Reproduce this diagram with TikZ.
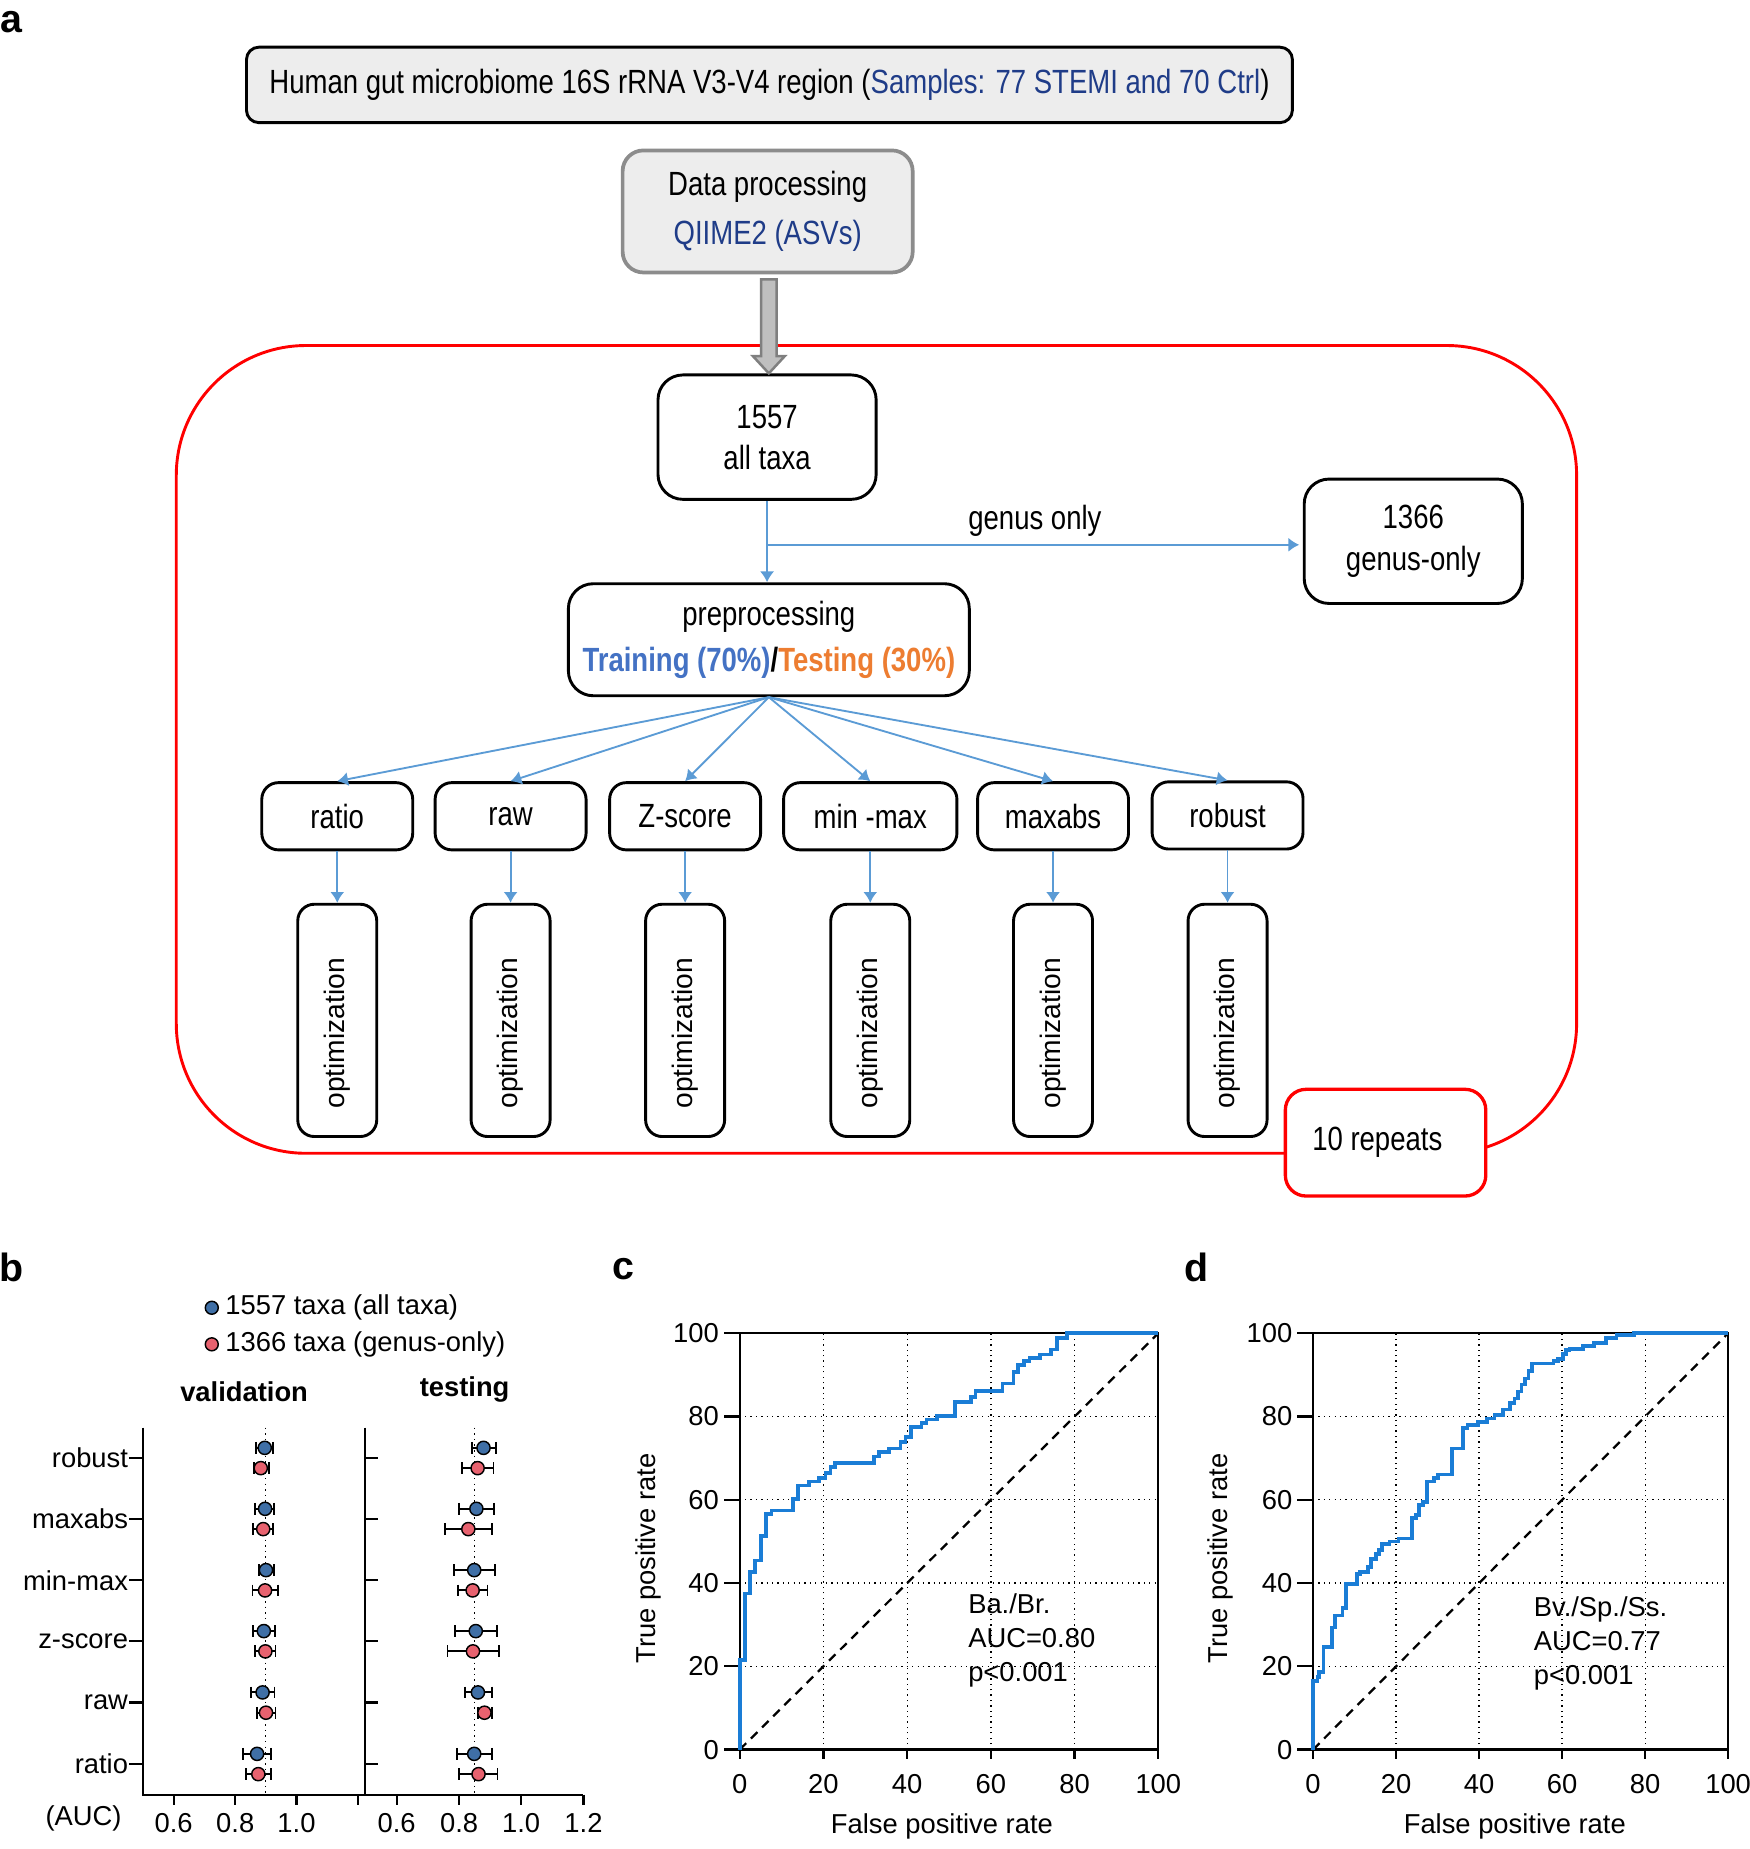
\documentclass[tikz,border=0pt]{standalone}
\usepackage{fontspec}
\setmainfont{Liberation Sans}
\newfontfamily\narrowfont[FakeStretch=0.82]{Liberation Sans}
\usepackage{tikz}
\usepackage{xcolor}
\usetikzlibrary{arrows.meta,calc}

\definecolor{boxgrey}{HTML}{EDEDED}
\definecolor{procgrey}{HTML}{8C8C8C}
\definecolor{navytext}{HTML}{1F3C88}
\definecolor{trainblue}{HTML}{4472C4}
\definecolor{testorange}{HTML}{ED7D31}
\definecolor{linkblue}{HTML}{5B9BD5}
\definecolor{arrowgrey}{HTML}{BFBFBF}
\definecolor{arrowedge}{HTML}{7F7F7F}
\definecolor{dotblue}{HTML}{3F6FA6}
\definecolor{dotred}{HTML}{E8626F}
\definecolor{rocblue}{HTML}{1A7DD6}

\newcommand\flowfont{\narrowfont\fontsize{8.1}{9.9}\selectfont}
\newcommand\rotfont{\fontsize{6.8}{8}\selectfont}
\newcommand\plotfont{\fontsize{6.6}{8.2}\selectfont}
\newcommand\tagfont{\fontsize{9.5}{11}\selectfont\bfseries}

\tikzset{
    tag/.style = {font=\tagfont, inner sep=0pt},
    source-box/.style = {draw=black, fill=boxgrey, line width=0.7pt, rectangle, rounded corners=3pt, font=\flowfont},
    proc-box/.style = {draw=procgrey, fill=boxgrey, line width=0.9pt, rectangle, rounded corners=5pt, align=center, font=\flowfont},
    taxa-box/.style = {draw=black, fill=white, line width=0.7pt, rectangle, rounded corners=6pt, align=center, font=\flowfont, minimum width=18.5mm, minimum height=10.55mm},
    norm-box/.style = {draw=black, fill=white, line width=0.7pt, rectangle, rounded corners=4pt, minimum height=5.7mm, font=\flowfont},
    opt-box/.style = {draw=black, fill=white, line width=0.7pt, rectangle, rounded corners=4pt, rotate=90, minimum width=19.7mm, minimum height=6.7mm, inner sep=0pt, font=\rotfont},
    repeat-box/.style = {draw=red, fill=white, line width=0.8pt, rectangle, rounded corners=5pt, font=\flowfont},
    red-frame/.style = {draw=red, line width=0.7pt, rounded corners=11mm},
    grey-arrow/.style = {draw=arrowedge, fill=arrowgrey, line width=0.6pt},
    link/.style = {draw=linkblue, line width=0.45pt, -{Latex[length=2.6pt,width=3.4pt]}},
    plot-text/.style = {font=\plotfont},
    axis/.style = {draw=black, line width=0.55pt},
    ref-line/.style = {draw=black, line width=0.35pt, densely dotted},
    grid-line/.style = {draw=black, line width=0.3pt, densely dotted},
    diag/.style = {draw=black, line width=0.55pt, dash pattern=on 2.2pt off 1.6pt},
    roc/.style = {draw=rocblue, line width=0.9pt, miter limit=4},
    err/.style = {draw=black, line width=0.45pt},
    blue-pt/.style = {draw=black, fill=dotblue, line width=0.35pt},
    red-pt/.style = {draw=black, fill=dotred, line width=0.35pt},
    key-dot/.style = {circle, draw=black, line width=0.35pt, minimum size=1.1mm, inner sep=0pt},
}

\begin{document}
\begin{tikzpicture}[x=0.1mm, y=-0.1mm]
\useasboundingbox (0,0) rectangle (1484,1568);

% panel a
\node[tag] (tag-a) at (10,19) {a};
\draw[red-frame] (149.5,293) rectangle (1337,978);

\node[source-box, minimum width=88.7mm, minimum height=6.4mm] (source) at (652.5,72) {Human gut microbiome 16S rRNA V3-V4 region (\textcolor{navytext}{Samples: 77 STEMI and 70 Ctrl})};
\node[proc-box, minimum width=24.6mm, minimum height=10.35mm] (proc) at (651,179.3) {Data processing\\[1.9pt]\textcolor{navytext}{QIIME2 (ASVs)}};

\node[taxa-box] (n1557) at (650.5,370.7) {1557\\all taxa};
\node[taxa-box] (n1366) at (1198.5,459) {1366\\genus-only};
\node[taxa-box, minimum width=34mm, minimum height=9.5mm] (prep) at (652,542.5) {preprocessing\\[1.2pt]{\bfseries\textcolor{trainblue}{Training (70\%)}/\textcolor{testorange}{Testing (30\%)}}};

\node[norm-box, minimum width=12.8mm] (ratio) at (286,692.2) {ratio};
\node[norm-box, minimum width=12.8mm] (raw) at (433,692.2) {raw};
\node[norm-box, minimum width=12.8mm] (zscore) at (581,692.2) {Z-score};
\node[norm-box, minimum width=14.7mm] (minmax) at (738,692.2) {min -max};
\node[norm-box, minimum width=12.8mm] (maxabs) at (893,692.2) {maxabs};
\node[norm-box, minimum width=12.8mm] (robust) at (1041,691.5) {robust};

\foreach \b in {ratio,raw,zscore,minmax,maxabs,robust}
    \node[opt-box] (opt-\b) at (\b |- 0,865.3) {optimization\kern2.2mm};

\node[repeat-box, minimum width=17mm, minimum height=9.05mm] (repeats) at (1175,969) {10 repeats\kern1.4mm};

\draw[grey-arrow] (645.5,237) -- (645.5,302) -- (638.5,302) -- (652,316.6) -- (665.5,302) -- (658.5,302) -- (658.5,237) -- cycle;

\draw[link] (n1557.south) -- (n1557.south |- prep.north);
\coordinate (split) at ($(n1557.south)!0.54!(n1557.south |- prep.north)$);
\draw[link, shorten >=0.3mm] (split) -- (split -| n1366.west) node[midway, anchor=base, yshift=1.3mm, font=\flowfont] (genus-label) {genus only};
\foreach \b in {ratio,raw,zscore,minmax,maxabs,robust} {
    \draw[link] (prep.south) -- (\b.north);
    \draw[link] (\b.south) -- (opt-\b.east);
}

% panel b
\node[tag] (tag-b) at (10,1074.7) {b};
\node[key-dot, fill=dotblue] (key-all) at (179.6,1109) {};
\node[plot-text, anchor=west, inner sep=0.5pt] (key-all-text) at ([xshift=0.3mm]key-all.east) {1557 taxa (all taxa)};
\node[key-dot, fill=dotred] (key-genus) at (179.6,1140) {};
\node[plot-text, anchor=west, inner sep=0.5pt] (key-genus-text) at ([xshift=0.3mm]key-genus.east) {1366 taxa (genus-only)};
\node[font=\plotfont\bfseries] (val-title) at (207,1180) {validation};
\node[font=\plotfont\bfseries] (test-title) at (394,1178.4) {testing};

\draw[axis] (121.3,1210.7) -- (121.3,1521.9) -- (494.8,1521.9);
\draw[axis] (309.4,1210.7) -- (309.4,1521.9);
\draw[ref-line] (225.2,1210.7) -- (225.2,1521.9);
\draw[ref-line] (402.3,1210.7) -- (402.3,1521.9);
\foreach \x/\t in {147.3/0.6,199.5/0.8,251.4/1.0,336.4/0.6,389.3/0.8,441.9/1.0,494.8/1.2} {
    \draw[axis] (\x,1521.9) -- (\x,1530.8);
    \node[plot-text] (tick-\x) at (\x,1545.6) {\t};
}
\draw[axis] (303.3,1521.9) -- (303.3,1530.8);
\foreach \y/\t in {1236.4/robust,1288.1/maxabs,1340.1/min-max,1391.8/z-score,1443.8/raw,1495.9/ratio} {
    \draw[axis] (109.5,\y) -- (121.3,\y);
    \draw[axis] (309.4,\y) -- (320.9,\y);
    \node[plot-text, anchor=east, inner sep=0.5pt] (cat-\t) at (111,\y) {\t};
}
\node[plot-text] (auc-label) at (70.8,1542) {(AUC)};

\begin{scope}[xshift=-0.87mm, x=26mm]
\foreach \y/\bv/\bl/\bh/\rv/\rl/\rh in {
    1236.4/0.897/0.868/0.923/0.884/0.863/0.910,
    1288.1/0.898/0.866/0.928/0.892/0.858/0.925,
    1340.1/0.901/0.879/0.926/0.898/0.857/0.941,
    1391.8/0.894/0.858/0.930/0.899/0.866/0.932,
    1443.8/0.890/0.852/0.929/0.901/0.871/0.932,
    1495.9/0.872/0.826/0.917/0.876/0.835/0.917} {
    \draw[err] (\bl,\y-8.6) -- (\bh,\y-8.6) (\bl,\y-13.6) -- (\bl,\y-3.6) (\bh,\y-13.6) -- (\bh,\y-3.6);
    \draw[err] (\rl,\y+8.6) -- (\rh,\y+8.6) (\rl,\y+3.6) -- (\rl,\y+13.6) (\rh,\y+3.6) -- (\rh,\y+13.6);
    \draw[blue-pt] (\bv,\y-8.6) circle[radius=0.56mm];
    \draw[red-pt] (\rv,\y+8.6) circle[radius=0.56mm];
}
\end{scope}

\begin{scope}[xshift=17.86mm, x=26.3mm]
\foreach \y/\bv/\bl/\bh/\rv/\rl/\rh in {
    1236.4/0.880/0.842/0.921/0.861/0.810/0.912,
    1288.1/0.857/0.800/0.915/0.831/0.755/0.906,
    1340.1/0.850/0.785/0.916/0.845/0.799/0.893,
    1391.8/0.855/0.789/0.924/0.846/0.764/0.931,
    1443.8/0.862/0.819/0.908/0.883/0.861/0.906,
    1495.9/0.850/0.795/0.908/0.864/0.801/0.925} {
    \draw[err] (\bl,\y-8.6) -- (\bh,\y-8.6) (\bl,\y-13.6) -- (\bl,\y-3.6) (\bh,\y-13.6) -- (\bh,\y-3.6);
    \draw[err] (\rl,\y+8.6) -- (\rh,\y+8.6) (\rl,\y+3.6) -- (\rl,\y+13.6) (\rh,\y+3.6) -- (\rh,\y+13.6);
    \draw[blue-pt] (\bv,\y-8.6) circle[radius=0.56mm];
    \draw[red-pt] (\rv,\y+8.6) circle[radius=0.56mm];
}
\end{scope}

% panel c
\node[tag] (tag-c) at (528.6,1076.3) {c};
\begin{scope}[shift={(627.3,1483.7)}, x=0.355mm, y=0.3531mm]
\foreach \v in {20,40,60,80} {
    \draw[grid-line] (\v,0) -- (\v,100);
    \draw[grid-line] (0,\v) -- (100,\v);
}
\draw[diag] (0,0) -- (100,100);
\draw[axis] (0,0) rectangle (100,100);
\foreach \v in {0,20,...,100} {
    \draw[axis] (\v,0) -- (\v,-2.2);
    \draw[axis] (0,\v) -- (-3.8,\v);
    \node[plot-text] (c-xt-\v) at (\v,-8.2) {\v};
    \node[plot-text, anchor=east, inner sep=0.5pt] (c-yt-\v) at (-4.3,\v) {\v};
}
\node[plot-text, rotate=90] (c-ylabel) at (-21.8,45.9) {True positive rate};
\node[plot-text] (c-xlabel) at (48.3,-18.5) {False positive rate};
\node[plot-text, align=left, anchor=west, inner sep=0pt] (c-note) at (54.4,26.3) {Ba./Br.\\AUC=0.80\\p<0.001};
\draw[roc] (0,0) |- (1.2,21.6) |- (2.5,37.5) |- (3.7,42.6) |- (5.1,45.4) |- (6.3,51.3) |- (7.6,56.6)
    |- (12.7,57.4) |- (13.9,60.2) |- (16.5,63.4) |- (19.0,64.4) |- (20.5,65.3) |- (21.7,66.4)
    |- (22.8,67.8) |- (32.1,68.8) |- (33.2,70.4) |- (35.7,71.4) |- (38.4,72.3) |- (39.6,73.9)
    |- (40.9,75.0) |- (43.4,77.4) |- (44.6,78.4) |- (47.2,79.3) |- (51.4,80.1) |- (55.2,83.4)
    |- (56.3,84.6) |- (62.8,86.2) |- (65.4,87.9) |- (66.5,90.7) |- (67.9,92.4) |- (69.2,93.3)
    |- (71.8,94.1) |- (74.4,94.9) |- (75.8,96.1) |- (78.2,98.9) |- (100,100);
\end{scope}

% panel d
\node[tag] (tag-d) at (1014.3,1074.7) {d};
\begin{scope}[shift={(1113.5,1483.7)}, x=0.352mm, y=0.3531mm]
\foreach \v in {20,40,60,80} {
    \draw[grid-line] (\v,0) -- (\v,100);
    \draw[grid-line] (0,\v) -- (100,\v);
}
\draw[diag] (0,0) -- (100,100);
\draw[axis] (0,0) rectangle (100,100);
\foreach \v in {0,20,...,100} {
    \draw[axis] (\v,0) -- (\v,-2.2);
    \draw[axis] (0,\v) -- (-3.8,\v);
    \node[plot-text] (d-xt-\v) at (\v,-8.2) {\v};
    \node[plot-text, anchor=east, inner sep=0.5pt] (d-yt-\v) at (-4.3,\v) {\v};
}
\node[plot-text, rotate=90] (d-ylabel) at (-22.4,45.9) {True positive rate};
\node[plot-text] (d-xlabel) at (48.6,-18.5) {False positive rate};
\node[plot-text, align=left, anchor=west, inner sep=0pt] (d-note) at (53.0,25.4) {Bv./Sp./Ss.\\AUC=0.77\\p<0.001};
\draw[roc] (0,0) |- (1.1,16.5) |- (1.5,17.4) |- (2.5,18.7) |- (4.6,24.6) |- (5.2,29.3) |- (7.1,32.2)
    |- (8.0,34.0) |- (10.6,39.8) |- (11.3,42.2) |- (13.3,42.6) |- (13.9,43.8) |- (15.1,45.7)
    |- (15.9,47.0) |- (16.6,47.9) |- (18.4,49.3) |- (20.6,50.0) |- (23.9,50.7) |- (24.8,55.7)
    |- (25.5,56.3) |- (26.5,58.7) |- (27.4,59.4) |- (29.2,64.4) |- (30.1,65.2) |- (33.5,66.1)
    |- (36.2,72.3) |- (37.2,77.3) |- (39.7,78.0) |- (41.9,78.7) |- (43.7,79.5) |- (45.7,80.4)
    |- (47.4,81.7) |- (48.5,83.2) |- (49.4,84.3) |- (50.2,86.0) |- (51.0,87.7) |- (51.9,89.1)
    |- (52.8,90.9) |- (57.9,92.7) |- (59.0,93.3) |- (60.2,93.9) |- (61.0,95.1) |- (61.8,96.0)
    |- (65.0,96.3) |- (67.6,97.0) |- (70.5,97.7) |- (73.1,98.8) |- (77.4,99.5) |- (100,100);
\end{scope}
\end{tikzpicture}
\end{document}
